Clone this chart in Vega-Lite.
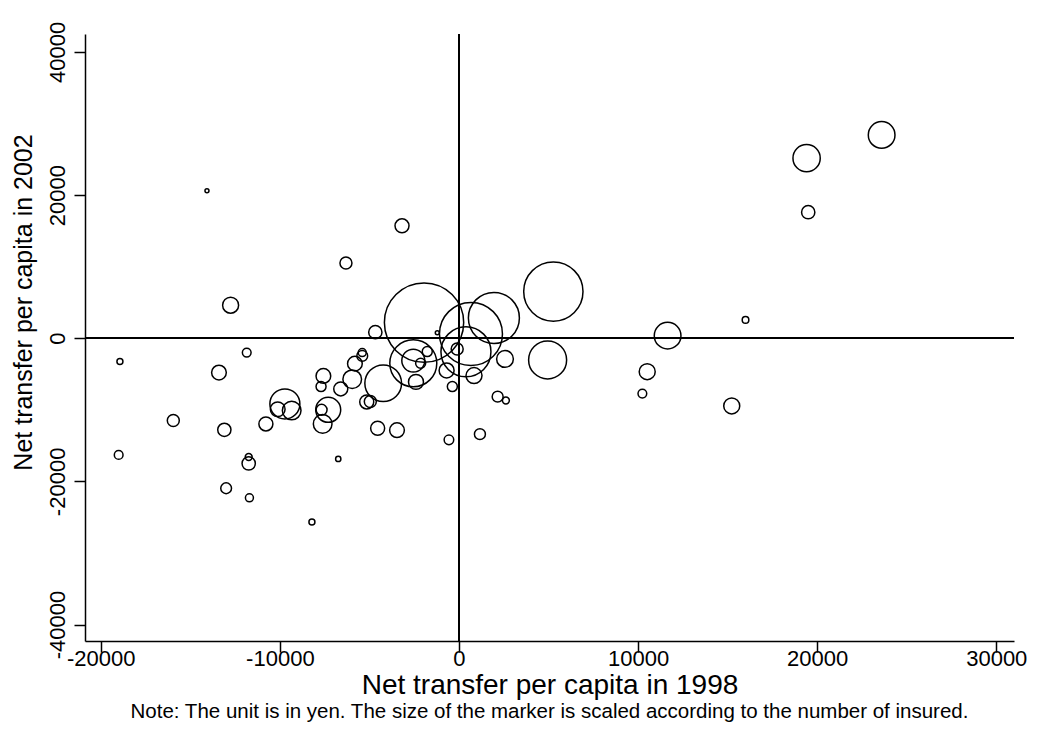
{
  "$schema": "https://vega.github.io/schema/vega-lite/v6.json",
  "width": 929,
  "height": 607,
  "autosize": "none",
  "padding": {"left": 85, "top": 34, "right": 26, "bottom": 106},
  "background": "white",
  "title": {
    "text": "Note: The unit is in yen. The size of the marker is scaled according to the number of insured.",
    "orient": "bottom",
    "anchor": "middle",
    "font": "Liberation Sans",
    "fontSize": 20.5,
    "fontWeight": "normal",
    "color": "black",
    "offset": 3
  },
  "config": {
    "view": {"stroke": null},
    "axis": {
      "grid": false,
      "domainColor": "black",
      "domainWidth": 1.5,
      "tickColor": "black",
      "tickWidth": 1.5,
      "tickSize": 11,
      "labelColor": "black",
      "titleColor": "black",
      "labelFont": "Liberation Sans",
      "titleFont": "Liberation Sans",
      "labelFontSize": 22,
      "titleFontSize": 26,
      "titleFontWeight": "normal"
    }
  },
  "data": {
    "values": [
      {"x": 23600, "y": 28400, "insured": 178},
      {"x": 19410, "y": 25150, "insured": 186},
      {"x": 19500, "y": 17600, "insured": 44},
      {"x": 16000, "y": 2560, "insured": 11},
      {"x": 11650, "y": 360, "insured": 178},
      {"x": 10510, "y": -4670, "insured": 64},
      {"x": 10240, "y": -7740, "insured": 19},
      {"x": 15230, "y": -9460, "insured": 64},
      {"x": 5270, "y": 6510, "insured": 879},
      {"x": -1950, "y": 2180, "insured": 1572},
      {"x": 1950, "y": 2840, "insured": 650},
      {"x": 670, "y": 600, "insured": 992},
      {"x": 390, "y": -1900, "insured": 625},
      {"x": 2570, "y": -2900, "insured": 70},
      {"x": 4950, "y": -3030, "insured": 361},
      {"x": 840, "y": -5220, "insured": 64},
      {"x": -100, "y": -1500, "insured": 36},
      {"x": -370, "y": -6760, "insured": 25},
      {"x": -690, "y": -4500, "insured": 56},
      {"x": 2160, "y": -8160, "insured": 30},
      {"x": 2620, "y": -8700, "insured": 12},
      {"x": 1170, "y": -13400, "insured": 30},
      {"x": -560, "y": -14200, "insured": 23},
      {"x": -1210, "y": 780, "insured": 4},
      {"x": -4670, "y": 840, "insured": 44},
      {"x": -6310, "y": 10520, "insured": 36},
      {"x": -3180, "y": 15700, "insured": 49},
      {"x": -2550, "y": -3500, "insured": 552},
      {"x": -2140, "y": -3500, "insured": 25},
      {"x": -1770, "y": -1870, "insured": 25},
      {"x": -2400, "y": -6100, "insured": 56},
      {"x": -2550, "y": -3130, "insured": 132},
      {"x": -4230, "y": -6290, "insured": 337},
      {"x": -5150, "y": -8900, "insured": 49},
      {"x": -4950, "y": -8850, "insured": 36},
      {"x": -4540, "y": -12580, "insured": 49},
      {"x": -3460, "y": -12850, "insured": 54},
      {"x": -5960, "y": -5730, "insured": 87},
      {"x": -5810, "y": -3550, "insured": 54},
      {"x": -5400, "y": -2470, "insured": 29},
      {"x": -5400, "y": -2000, "insured": 16},
      {"x": -6600, "y": -7080, "insured": 49},
      {"x": -7570, "y": -5270, "insured": 54},
      {"x": -7700, "y": -6760, "insured": 25},
      {"x": -7300, "y": -10000, "insured": 156},
      {"x": -7670, "y": -10000, "insured": 30},
      {"x": -7610, "y": -11970, "insured": 87},
      {"x": -12750, "y": 4610, "insured": 64},
      {"x": -11850, "y": -2000, "insured": 19},
      {"x": -18930, "y": -3270, "insured": 9},
      {"x": -13400, "y": -4800, "insured": 54},
      {"x": -9720, "y": -9180, "insured": 225},
      {"x": -10120, "y": -9920, "insured": 54},
      {"x": -9340, "y": -10100, "insured": 87},
      {"x": -10780, "y": -11970, "insured": 49},
      {"x": -15950, "y": -11500, "insured": 36},
      {"x": -13100, "y": -12800, "insured": 44},
      {"x": -19000, "y": -16300, "insured": 19},
      {"x": -11740, "y": -17500, "insured": 44},
      {"x": -11740, "y": -16600, "insured": 12},
      {"x": -6740, "y": -16870, "insured": 7},
      {"x": -13000, "y": -20960, "insured": 29},
      {"x": -11700, "y": -22300, "insured": 16},
      {"x": -14070, "y": 20600, "insured": 4},
      {"x": -8210, "y": -25670, "insured": 9}
    ]
  },
  "layer": [
    {
      "mark": {"type": "rule", "color": "black", "strokeWidth": 1.8},
      "encoding": {"x": {"datum": 0}}
    },
    {
      "mark": {"type": "rule", "color": "black", "strokeWidth": 1.8},
      "encoding": {"y": {"datum": 0}}
    },
    {
      "mark": {"type": "point", "shape": "circle", "filled": false, "stroke": "black", "strokeWidth": 1.5, "opacity": 1},
      "encoding": {
        "x": {
          "field": "x",
          "type": "quantitative",
          "scale": {"domain": [-20880, 30990], "nice": false, "zero": false},
          "axis": {
            "title": "Net transfer per capita in 1998",
            "values": [-20000, -10000, 0, 10000, 20000, 30000],
            "labelExpr": "toString(datum.value)",
            "labelPadding": -4,
            "titleFontSize": 28,
            "titleBaseline": "alphabetic",
            "titleY": 52
          }
        },
        "y": {
          "field": "y",
          "type": "quantitative",
          "scale": {"domain": [-42300, 42500], "nice": false, "zero": false},
          "axis": {
            "title": "Net transfer per capita in 2002",
            "values": [-40000, -20000, 0, 20000, 40000],
            "labelExpr": "toString(datum.value)",
            "labelAngle": -90,
            "labelAlign": "center",
            "labelBaseline": "alphabetic",
            "labelPadding": 10,
            "titleFontSize": 25,
            "titleAngle": -90,
            "titleAlign": "center",
            "titleBaseline": "alphabetic",
            "titleX": -54,
            "titleY": 268
          }
        },
        "size": {
          "field": "insured",
          "type": "quantitative",
          "scale": {"type": "linear", "domain": [0, 1000], "range": [0, 4000], "zero": true},
          "legend": null
        }
      }
    }
  ]
}
